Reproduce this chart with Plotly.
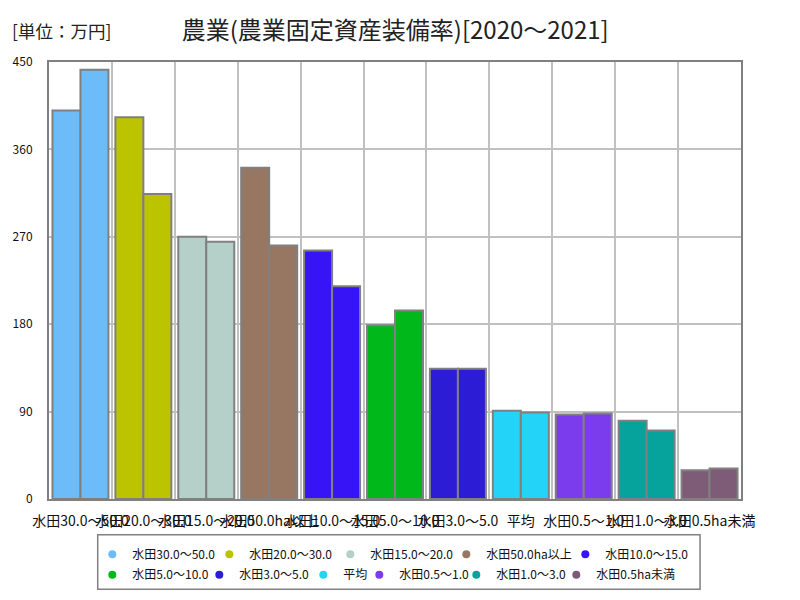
import plotly.graph_objects as go

# 農業固定資産装備率（万円）
categories = ['水田30.0～50.0', '水田20.0～30.0', '水田15.0～20.0', '水田50.0ha以上',
              '水田10.0～15.0', '水田5.0～10.0', '水田3.0～5.0', '平均',
              '水田0.5～1.0', '水田1.0～3.0', '水田0.5ha未満']
values_2020 = [400, 393, 270, 341, 256, 179, 134, 91, 87, 80.5, 29.5]
values_2021 = [442, 314, 265, 261, 219, 194, 134, 89, 88, 70.5, 31.5]
colors = ['#6bbcf8', '#bcc400', '#b5d0c8', '#977761', '#3714f6', '#00b81a',
          '#2c1cd6', '#24d3f8', '#7b3ced', '#05a39b', '#7e5c78']

FONT = 'Noto Sans CJK JP'

# ページ余白(8px)を差し引いた位置で組む
fig = go.Figure()
for name, vals in [('2020', values_2020), ('2021', values_2021)]:
    fig.add_trace(go.Bar(
        x=categories, y=vals, name=name, showlegend=False,
        marker=dict(color=colors, line=dict(color='#808080', width=2)),
        hoverinfo='x+y',
    ))

# 凡例用のダミー（1行目5個、2行目6個）。間隔を詰めるため幅を指定
legend_widths = [72, 76, 71, 74, 0, 62, 59, 11, 52, 55, 0]
for i, (cat, col) in enumerate(zip(categories, colors)):
    kw = dict(legendwidth=legend_widths[i]) if legend_widths[i] else {}
    fig.add_trace(go.Scatter(
        x=[None], y=[None], mode='markers', name=cat,
        legend='legend' if i < 5 else 'legend2',
        marker=dict(symbol='circle', size=8, color=col), **kw,
    ))

leg = dict(orientation='h', xanchor='left', yanchor='top', borderwidth=0,
           bgcolor='rgba(0,0,0,0)', font=dict(size=12, color='#111'), itemwidth=30,
           tracegroupgap=0)

fig.update_layout(
    width=800, height=600,
    margin=dict(l=41, r=67, t=54, b=109),
    paper_bgcolor='white', plot_bgcolor='white',
    font=dict(family=FONT, size=13, color='#222'),
    barmode='group', bargap=0.11, bargroupgap=0,
    title=dict(text='農業(農業固定資産装備率)[2020～2021]', x=0.484, xanchor='center',
               y=0.963, yanchor='middle', font=dict(size=24, color='#222')),
    legend=dict(leg, x=0.0626, y=-0.093),
    legend2=dict(leg, x=0.0626, y=-0.140),
    annotations=[dict(text='[単位：万円]', xref='paper', yref='paper',
                      x=-0.057, y=1.0732,
                      showarrow=False, xanchor='left', yanchor='middle',
                      font=dict(size=17.5, color='#222'))],
    shapes=[dict(type='rect', xref='paper', yref='paper',
                 x0=0.0704, x1=0.9408, y0=-0.2066, y1=-0.0817,
                 line=dict(color='#808080', width=1.5))],
)

fig.update_xaxes(
    tickangle=0, showgrid=True, gridcolor='#c0c0c0', gridwidth=1.5,
    showline=True, linecolor='#808080', linewidth=2, mirror=True,
    ticks='', tickfont=dict(size=14, color='#111'), tickson='boundaries',
    ticklabelstandoff=8, automargin=False,
)
fig.update_yaxes(
    range=[0, 450], dtick=90, showgrid=True, gridcolor='#c0c0c0', gridwidth=1.5,
    showline=True, linecolor='#808080', linewidth=2, mirror=True,
    ticks='', tickfont=dict(size=12, color='#111'), zeroline=False,
    ticklabelstandoff=12, automargin=False,
)

fig.write_html('out.html')
